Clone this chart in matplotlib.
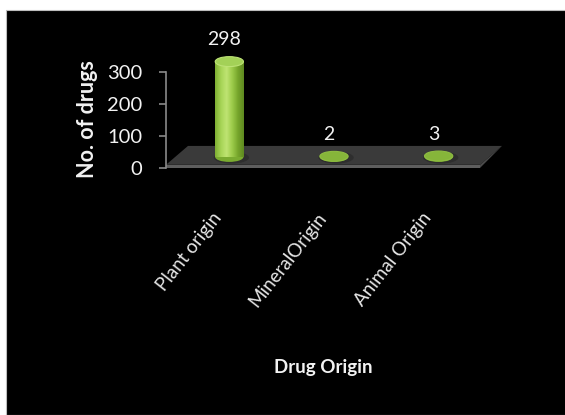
import numpy as np
import matplotlib.pyplot as plt
from matplotlib.patches import Ellipse, Polygon, Rectangle
from matplotlib.colors import LinearSegmentedColormap

plt.rcParams['font.family'] = ['Lato', 'DejaVu Sans']

# data
categories = ['Plant origin', 'MineralOrigin', 'Animal Origin']
counts = [298, 2, 3]
yticks = [0, 100, 200, 300]

W, H = 565, 415
fig = plt.figure(figsize=(W / 100, H / 100), dpi=100)
fig.patch.set_facecolor('white')
# black chart area with a thin white margin top/left
fig.add_artist(Rectangle((6 / W, 0), 1, (H - 10) / H, transform=fig.transFigure,
                         facecolor='black', edgecolor='#bdbdbd', lw=0.8, zorder=0))

ax = fig.add_axes([166 / W, (H - 168) / H, 314 / W, 96 / H])
ax.patch.set_visible(False)

# pseudo 3d depth in data units
dx, dy = 0.21, 69
bar_w = 0.27
ell_h = 31

# floor slab
ax.add_patch(Polygon([(-0.5, 10), (2.5, 10), (2.5 + dx, dy), (-0.5 + dx, dy)],
                     closed=True, facecolor='#3a3a3a', edgecolor='none', zorder=1, clip_on=False))
ax.add_patch(Polygon([(-0.5, 0), (2.5, 0), (2.5, 10), (-0.5, 10)],
                     closed=True, facecolor='#5e5e5e', edgecolor='none', zorder=1, clip_on=False))
ax.add_patch(Polygon([(2.5, 0), (2.5 + dx, dy), (2.5, 10)],
                     closed=True, facecolor='#4a4a4a', edgecolor='none', zorder=1, clip_on=False))

body_cmap = LinearSegmentedColormap.from_list(
    'cyl', ['#7fb032', '#a6d456', '#bfe472', '#9ccb4a', '#76a52b', '#5f8a20'])
grad = np.linspace(0, 1, 64).reshape(1, -1)

for i, v in enumerate(counts):
    cx = i + dx / 2
    base = dy / 2
    top = base + v
    # faint shadow on the floor
    ax.add_patch(Ellipse((cx + 0.02, base - 2), bar_w * 1.25, ell_h * 1.2,
                         facecolor='#2e2e2e', edgecolor='none', zorder=2, clip_on=False))
    ax.add_patch(Ellipse((cx, base), bar_w, ell_h, facecolor='#7aab30',
                         edgecolor='none', zorder=3, clip_on=False))
    if v > 5:
        im = ax.imshow(grad, extent=[cx - bar_w / 2, cx + bar_w / 2, base, top],
                       aspect='auto', cmap=body_cmap, zorder=4, interpolation='bilinear')
        im.set_clip_on(False)
        cap_fc, cap_ec = '#a3d157', '#bde276'
    else:
        cap_fc, cap_ec = '#86b53a', '#8fbd42'
    ax.add_patch(Ellipse((cx, top), bar_w, ell_h, facecolor=cap_fc,
                         edgecolor=cap_ec, lw=0.8, zorder=5, clip_on=False))
    ax.annotate(str(v), (cx, top + ell_h / 2), xytext=(-5, 17), textcoords='offset pixels',
                ha='center', va='center', color='#f2f2f2', fontsize=14,
                annotation_clip=False)
    ax.annotate(categories[i], (i, 0), xytext=(0, -47), textcoords='offset pixels',
                ha='right', va='center', rotation=52, rotation_mode='anchor',
                color='#e6e6e6', fontsize=13.5, annotation_clip=False)

ax.set_xlim(-0.5, 2.5)
ax.set_ylim(0, 300)
ax.set_yticks(yticks)
ax.set_xticks([])
for side in ['top', 'right', 'bottom']:
    ax.spines[side].set_visible(False)
ax.spines['left'].set_color('#8a8a8a')
ax.spines['left'].set_linewidth(1.2)
ax.tick_params(axis='y', colors='#8a8a8a', length=5, width=1.2, pad=12,
               labelcolor='#f2f2f2', labelsize=14.5)

fig.text(88 / W, 1 - 119 / H, 'No. of drugs', rotation=90, ha='center', va='center',
         color='#f2f2f2', fontsize=15.5, fontweight='bold')
fig.text(323 / W, 1 - 368 / H, 'Drug Origin', ha='center', va='center',
         color='#f2f2f2', fontsize=13.5, fontweight='bold')

fig.savefig('out.png', dpi=100, facecolor=fig.get_facecolor())
